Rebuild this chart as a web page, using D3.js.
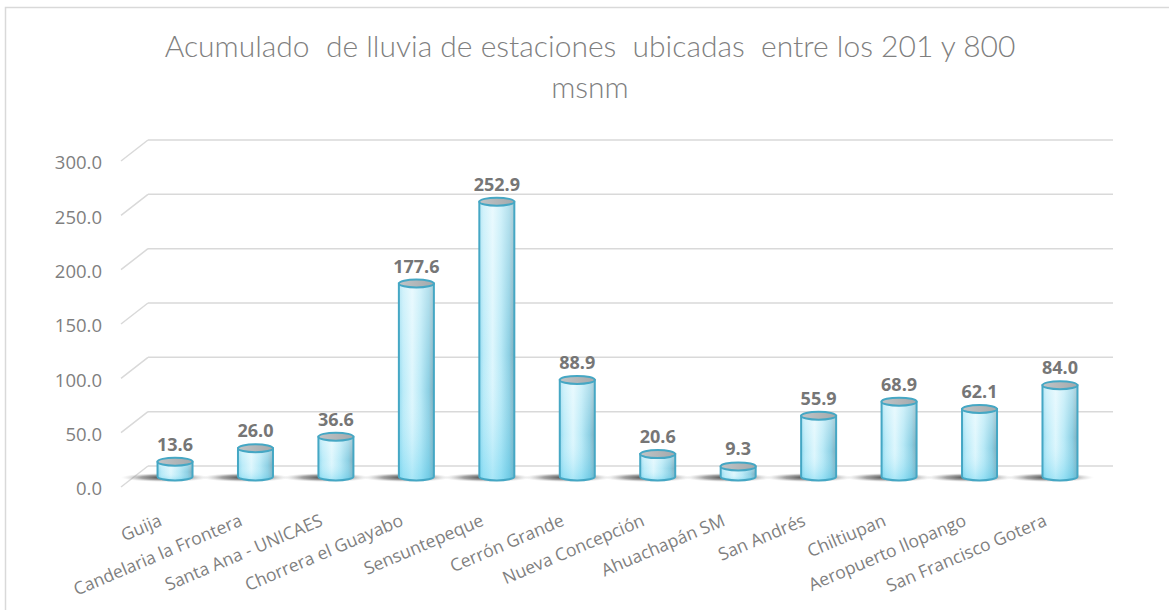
<!DOCTYPE html>
<html>
<head>
<meta charset="utf-8">
<script src="https://cdn.jsdelivr.net/npm/d3@7"></script>
<style>
  body { margin: 0; background: #fff; }
  text { font-family: "Open Sans", sans-serif; }
</style>
</head>
<body>
<div id="chart"></div>
<script>
// data
const stations = ["Guija", "Candelaria la Frontera", "Santa Ana - UNICAES", "Chorrera el Guayabo",
  "Sensuntepeque", "Cerrón Grande", "Nueva Concepción", "Ahuachapán SM", "San Andrés",
  "Chiltiupan", "Aeropuerto Ilopango", "San Francisco Gotera"];
const rainfall = [13.6, 26.0, 36.6, 177.6, 252.9, 88.9, 20.6, 9.3, 55.9, 68.9, 62.1, 84.0];
const yTicks = [0, 50, 100, 150, 200, 250, 300];
const titleLines = ["Acumulado  de lluvia de estaciones  ubicadas  entre los 201 y 800", "msnm"];

const width = 1169, height = 610;
// 3D depth offset of the side wall (back -> front)
const depth = {dx: -27, dy: 21};

const svg = d3.select("#chart").append("svg")
    .attr("width", width)
    .attr("height", height);

const defs = svg.append("defs");

const body = defs.append("linearGradient").attr("id", "cyl").attr("x1", 0).attr("x2", 1).attr("y1", 0).attr("y2", 0);
[["0%", "#8ed8ee"], ["12%", "#b6eaf8"], ["38%", "#dcf6fd"], ["62%", "#b4e8f6"], ["85%", "#86cde2"], ["100%", "#7aa9b8"]]
  .forEach(s => body.append("stop").attr("offset", s[0]).attr("stop-color", s[1]));

const shade = defs.append("linearGradient").attr("id", "cylv").attr("x1", 0).attr("x2", 0).attr("y1", 0).attr("y2", 1);
[["0%", "#ffffff", 0.4], ["55%", "#ffffff", 0.05], ["100%", "#45c8ec", 0.35]]
  .forEach(s => shade.append("stop").attr("offset", s[0]).attr("stop-color", s[1]).attr("stop-opacity", s[2]));

const topFill = defs.append("linearGradient").attr("id", "cyltop").attr("x1", 0).attr("x2", 1);
[["0%", "#c0c4c6"], ["100%", "#a4a9ac"]]
  .forEach(s => topFill.append("stop").attr("offset", s[0]).attr("stop-color", s[1]));

const shadow = defs.append("radialGradient").attr("id", "shadow");
[["0%", "#262626", 0.9], ["55%", "#595959", 0.55], ["100%", "#bfbfbf", 0]]
  .forEach(s => shadow.append("stop").attr("offset", s[0]).attr("stop-color", s[1]).attr("stop-opacity", s[2]));

// border
svg.append("path")
    .attr("d", "M5.5," + height + "V7.5H" + width)
    .attr("fill", "none")
    .attr("stroke", "#d9d9d9")
    .attr("stroke-width", 1.5);

// title
svg.append("g").selectAll("text")
  .data(titleLines)
  .enter().append("text")
    .attr("x", 590)
    .attr("y", (d, i) => 57 + i * 41)
    .attr("text-anchor", "middle")
    .attr("fill", "#7f7f7f")
    .style("font-family", "Lato, 'Open Sans', sans-serif")
    .style("font-weight", 300)
    .style("font-size", "30px")
    .style("white-space", "pre")
    .text(d => d);

// scales: y on the back wall, x at bar depth
const y = d3.scaleLinear().domain([0, 300]).range([466, 140]);
const x = d3.scaleBand().domain(stations).range([134.8, 1100.2]).padding(0);
const wallLeft = 148, wallRight = 1113;

// gridlines: back wall + left side wall
const grid = svg.append("g");
grid.selectAll(".back")
  .data(yTicks)
  .enter().append("line")
    .attr("x1", wallLeft).attr("x2", wallRight)
    .attr("y1", d => y(d)).attr("y2", d => y(d))
    .attr("stroke", "#d9d9d9").attr("stroke-width", 1.5);
grid.selectAll(".side")
  .data(yTicks)
  .enter().append("line")
    .attr("x1", wallLeft).attr("x2", wallLeft + depth.dx)
    .attr("y1", d => y(d)).attr("y2", d => y(d) + depth.dy)
    .attr("stroke", "#d9d9d9").attr("stroke-width", 1.5);

// y axis labels (front edge)
const yAxis = d3.axisLeft(y).tickValues(yTicks).tickFormat(d3.format(".1f")).tickSize(0).tickPadding(0);
svg.append("g")
    .attr("transform", "translate(102," + (depth.dy + 2) + ")")
    .call(yAxis)
    .call(g => g.select(".domain").remove())
    .call(g => g.selectAll("text").attr("fill", "#7f7f7f").style("font-size", "18.5px").style("font-family", "'Open Sans', sans-serif"));

const mid = v => y(v) + depth.dy / 2;
const cx = d => x(d) + x.bandwidth() / 2;
const r = 17.5, ry = 4;
const base = mid(0);

// floor shadows
svg.append("g").selectAll("ellipse")
  .data(stations)
  .enter().append("ellipse")
    .attr("cx", d => cx(d) - 10)
    .attr("cy", base + 1)
    .attr("rx", 44)
    .attr("ry", 4.5)
    .attr("fill", "url(#shadow)");

// cylinders
const bars = svg.append("g").selectAll("g")
  .data(stations.map((s, i) => ({name: s, value: rainfall[i]})))
  .enter().append("g");

const bodyPath = d => {
  const c = cx(d.name), t = mid(d.value);
  return "M" + (c - r) + "," + t + "L" + (c - r) + "," + base +
    "A" + r + "," + ry + " 0 0 0 " + (c + r) + "," + base +
    "L" + (c + r) + "," + t + "Z";
};
bars.append("path").attr("d", bodyPath).attr("fill", "url(#cyl)");
bars.append("path").attr("d", bodyPath).attr("fill", "url(#cylv)")
    .attr("stroke", "#45a7c4").attr("stroke-width", 2);
bars.append("ellipse")
    .attr("cx", d => cx(d.name))
    .attr("cy", d => mid(d.value))
    .attr("rx", r).attr("ry", ry)
    .attr("fill", "url(#cyltop)")
    .attr("stroke", "#45a7c4").attr("stroke-width", 2);

// value labels
bars.append("text")
    .attr("x", d => cx(d.name))
    .attr("y", d => mid(d.value) - 11)
    .attr("text-anchor", "middle")
    .attr("fill", "#767676")
    .style("font-weight", "bold")
    .style("font-size", "18px")
    .text(d => d.value.toFixed(1));

// category labels, rotated
svg.append("g").selectAll("text")
  .data(stations)
  .enter().append("text")
    .attr("transform", d => "translate(" + (cx(d) - 12) + ",525) rotate(-23)")
    .attr("text-anchor", "end")
    .attr("fill", "#7f7f7f")
    .style("font-size", "17.5px")
    .text(d => d);
</script>
</body>
</html>
